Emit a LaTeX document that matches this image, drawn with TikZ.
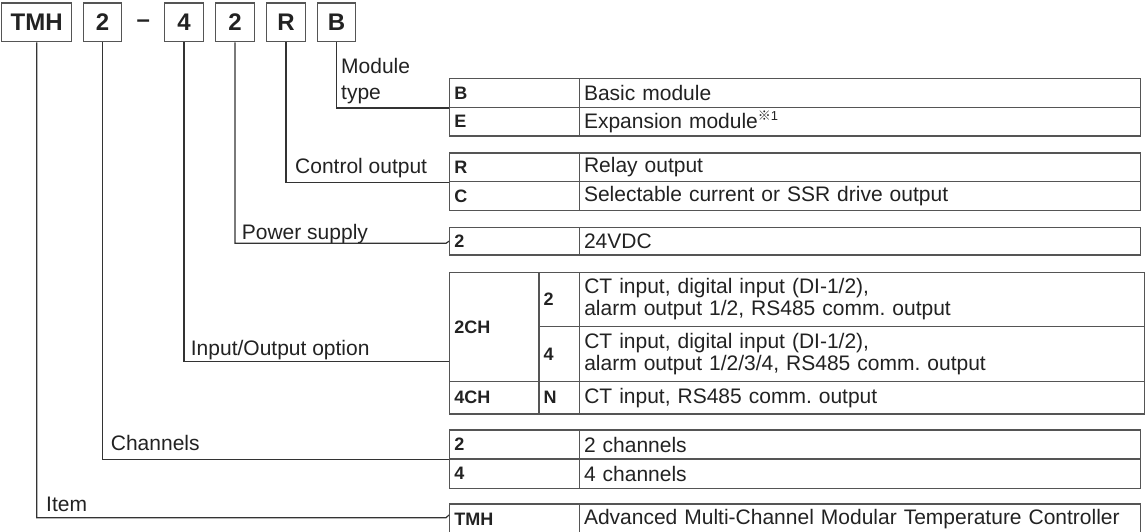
\documentclass[tikz,border=0pt]{standalone}
\usepackage{fontspec}
\setmainfont{Liberation Sans}
\newfontfamily\cjk{Noto Sans CJK JP}
\frenchspacing
\definecolor{txt}{HTML}{222222}
\definecolor{gridc}{HTML}{555555}
\definecolor{linec}{HTML}{333333}
\tikzset{
  lbl/.style={inner sep=0pt, anchor=base west, text=txt, font=\fontsize{21}{26}\selectfont},
  topbox/.style={draw=gridc, line width=1.4pt, text=txt, inner sep=0pt, minimum height=38.7pt, minimum width=38.5pt, font=\bfseries\fontsize{24}{28}\selectfont},
  cell/.style={draw=gridc, line width=1.4pt, anchor=north west, inner xsep=4.6pt, inner ysep=0pt, align=left, text=txt},
  codec/.style={cell, font=\bfseries\fontsize{18}{22}\selectfont},
  descc/.style={cell, font=\fontsize{21}{22}\selectfont},
  conn/.style={draw=linec, line width=1.2pt},
}
\begin{document}
\begin{tikzpicture}[x=1pt,y=-1pt]
\useasboundingbox (0,0) rectangle (1145,532);
% top code boxes
\node[topbox, minimum width=70pt] (bTMH) at (36.7,22.3) {TMH};
\node[topbox] (bCh) at (102.5,22.3) {2};
\node[inner sep=0pt, text=txt, font=\bfseries\fontsize{24}{28}\selectfont] (dash) at (143.3,23.5) {–};
\node[topbox] (bIO) at (184,22.3) {4};
\node[topbox] (bPw) at (235,22.3) {2};
\node[topbox] (bCo) at (286,22.3) {R};
\node[topbox] (bMt) at (336.5,22.3) {B};

% Table 1: module type
\node[codec, text width=120.5pt, minimum height=29pt] (tB) at (449,77.7) {B};
\node[descc, text width=552.1pt, minimum height=29pt] (dB) at (578.7,77.7) {Basic module};
\node[codec, text width=120.5pt, minimum height=28.8pt] (tE) at (449,106.7) {E};
\node[descc, text width=552.1pt, minimum height=28.8pt] (dE) at (578.7,106.7) {Expansion module\raisebox{8.5pt}{\fontsize{13}{13}\selectfont{\cjk ※}1}};

% Table 2: control output
\node[codec, text width=120.5pt, minimum height=28.7pt] (tR) at (449,152.3) {R};
\node[descc, text width=552.1pt, minimum height=28.7pt] (dR) at (578.7,152.3) {Relay output};
\node[codec, text width=120.5pt, minimum height=29pt] (tC) at (449,181) {C};
\node[descc, text width=552.1pt, minimum height=29pt] (dC) at (578.7,181) {Selectable current or SSR drive output};

% Table 3: power supply
\node[codec, text width=120.5pt, minimum height=27.6pt] (tP) at (449,226.7) {2};
\node[descc, text width=552.1pt, minimum height=27.6pt] (dP) at (578.7,226.7) {24VDC};

% Table 4: input/output option
\node[codec, text width=80.1pt, minimum height=109pt] (t2CH) at (449,271.7) {2CH};
\node[codec, text width=31.5pt, minimum height=54.3pt] (t2) at (538.3,271.7) {2};
\node[descc, text width=555.8pt, minimum height=54.3pt] (d2) at (579,271.7) {CT input, digital input (DI-1/2),\\alarm output 1/2, RS485 comm. output};
\node[codec, text width=31.5pt, minimum height=54.7pt] (t4) at (538.3,326) {4};
\node[descc, text width=555.8pt, minimum height=54.7pt] (d4) at (579,326) {CT input, digital input (DI-1/2),\\alarm output 1/2/3/4, RS485 comm. output};
\node[codec, text width=80.1pt, minimum height=32.6pt] (t4CH) at (449,380.7) {4CH};
\node[codec, text width=31.5pt, minimum height=32.6pt] (tN) at (538.3,380.7) {N};
\node[descc, text width=555.8pt, minimum height=32.6pt] (dN) at (579,380.7) {CT input, RS485 comm. output};

% Table 5: channels
\node[codec, text width=120.5pt, minimum height=29pt] (tc2) at (449,429.3) {2};
\node[descc, text width=552.1pt, minimum height=29pt] (dc2) at (578.7,429.3) {2 channels};
\node[codec, text width=120.5pt, minimum height=29.4pt] (tc4) at (449,458.3) {4};
\node[descc, text width=552.1pt, minimum height=29.4pt] (dc4) at (578.7,458.3) {4 channels};

% Table 6: item
\node[codec, text width=120.5pt, minimum height=30pt] (tTMH) at (449,503.3) {TMH};
\node[descc, text width=552.1pt, minimum height=30pt] (dTMH) at (578.7,503.3) {Advanced Multi-Channel Modular Temperature Controller};

% labels
\node[lbl, anchor=north west, align=left] (lMt) at (341,58.5) {Module\\type};
\node[lbl] (lCo) at (295,173) {Control output};
\node[lbl] (lPw) at (241.7,239) {Power supply};
\node[lbl] (lIO) at (190.7,355) {Input/Output option};
\node[lbl] (lCh) at (110.7,450) {Channels};
\node[lbl] (lIt) at (46,511.7) {Item};

% connectors
\coordinate (kPw) at (446,243.3);
\coordinate (kIt) at (446,517.7);
\draw[conn] (bMt.south) |- (tB.south west);
\draw[conn] (bCo.south) |- (tR.south west);
\draw[conn] (bPw.south) |- (kPw) -- (tP.west);
\draw[conn] (bIO.south) |- ([yshift=20.7pt]t2CH.south west);
\draw[conn] (bCh.south) |- (tc2.south west);
\draw[conn] (bTMH.south) |- (kIt) -- ([yshift=4pt]tTMH.west);
\end{tikzpicture}
\end{document}
